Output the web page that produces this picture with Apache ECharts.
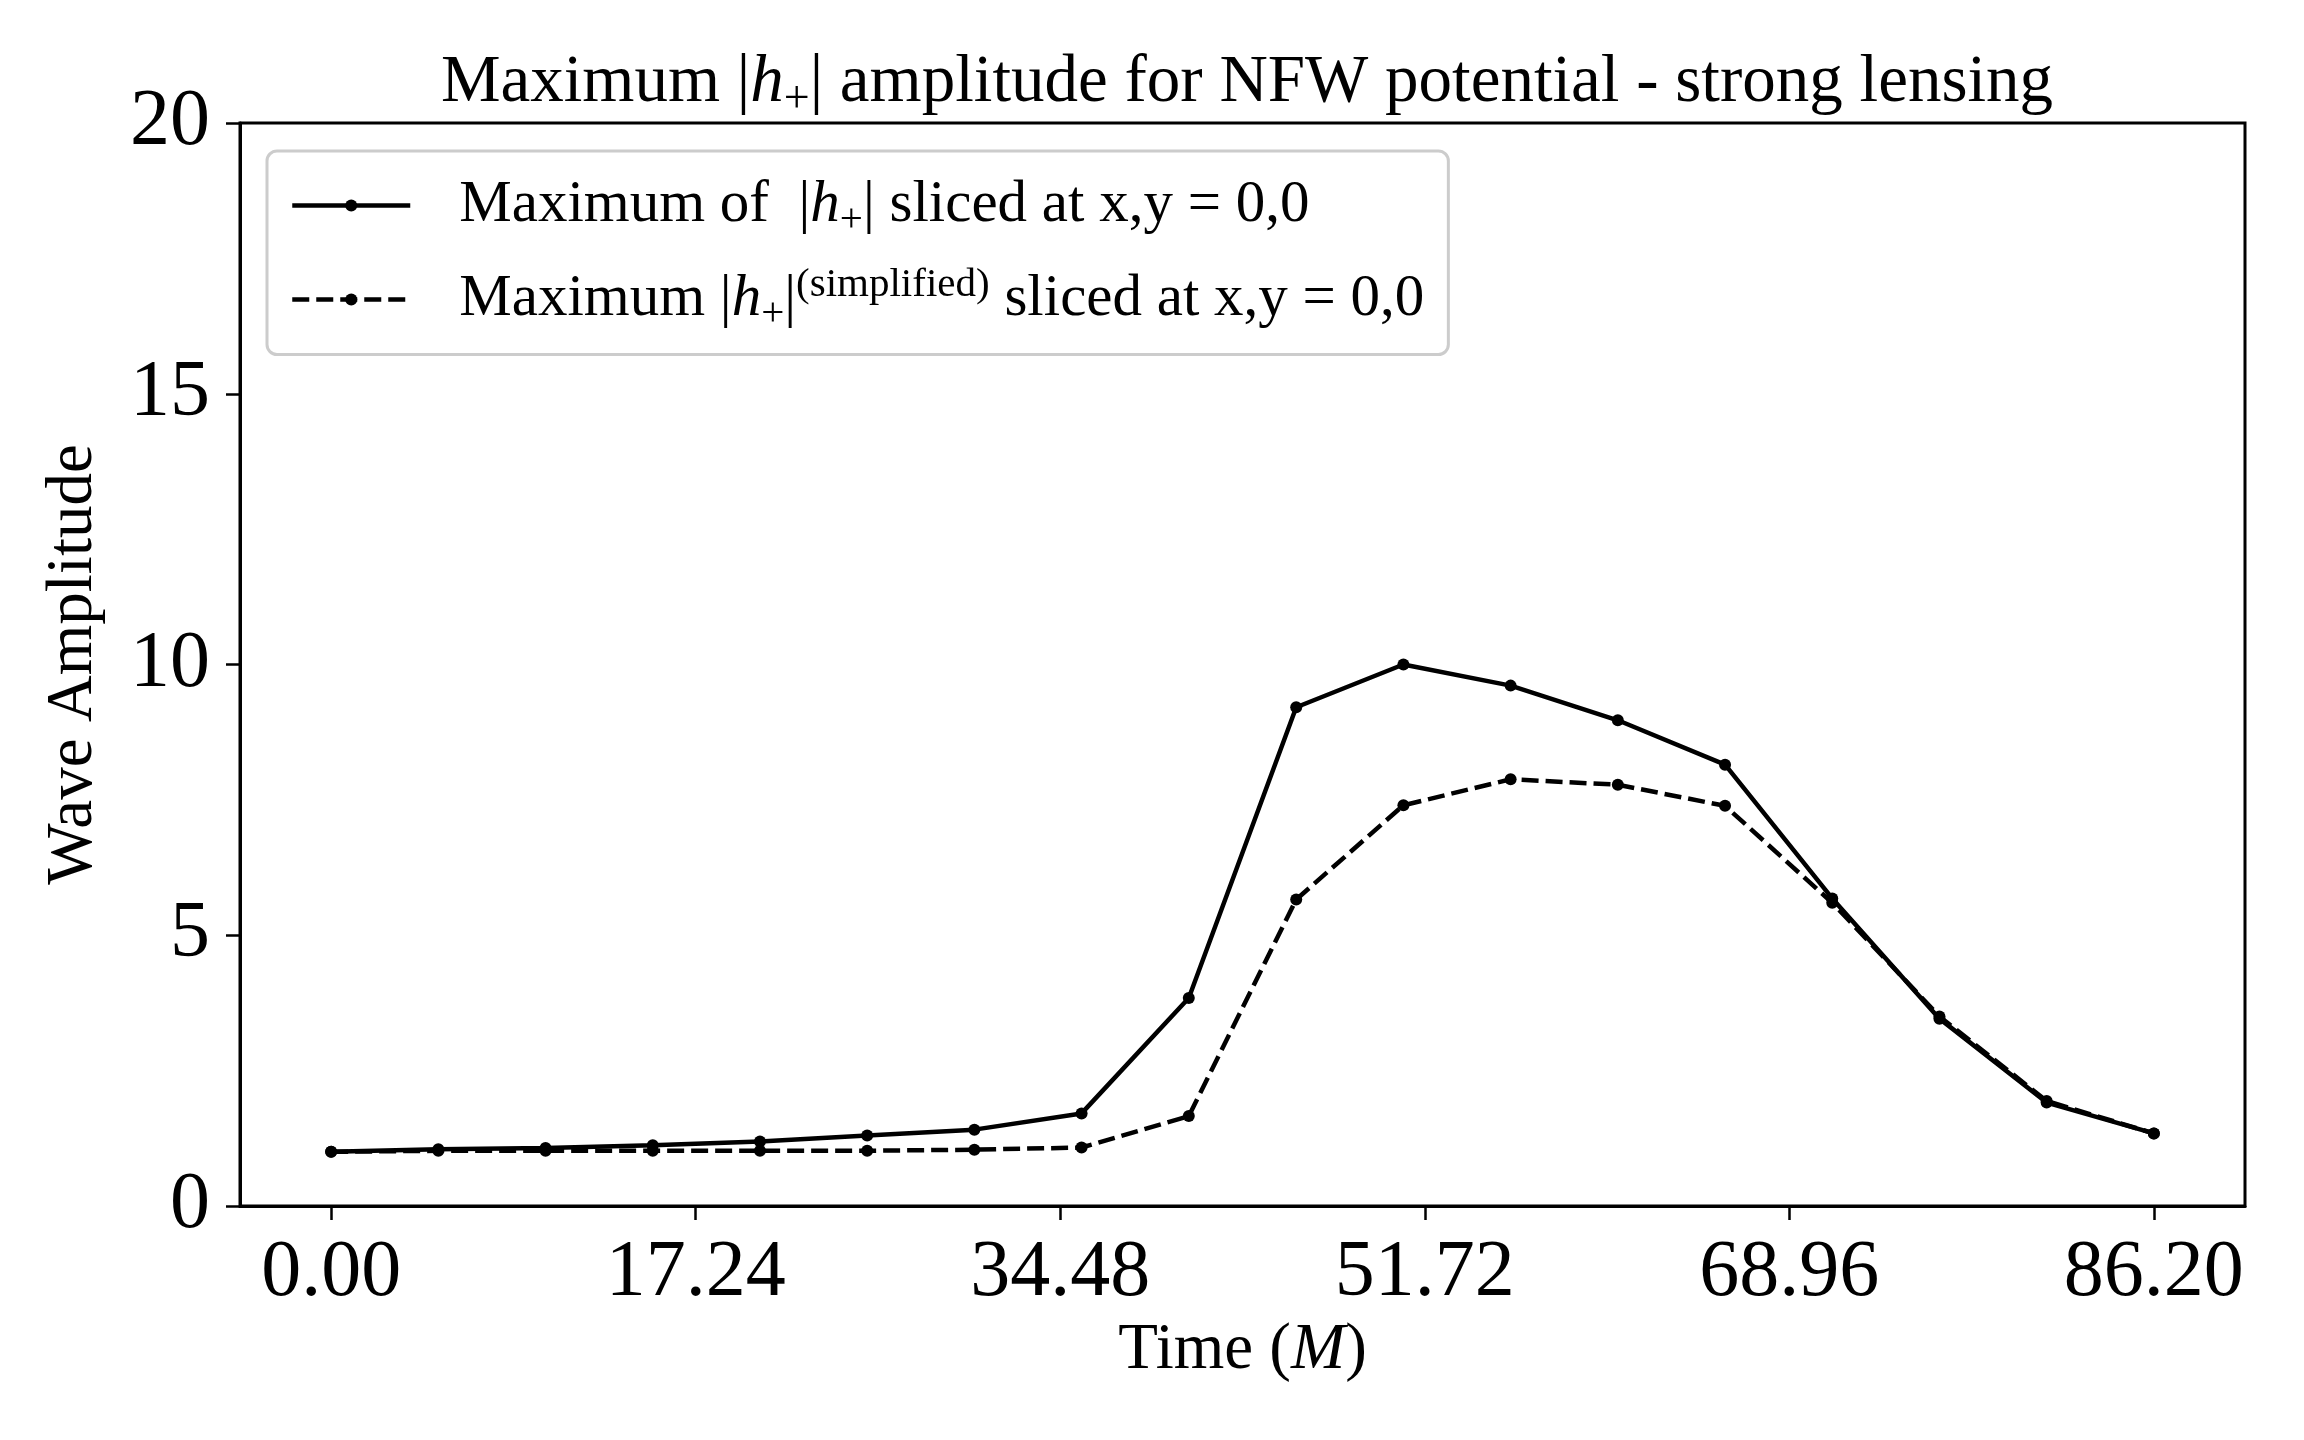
<!DOCTYPE html>
<html>
<head>
<meta charset="utf-8">
<script src="https://cdn.jsdelivr.net/npm/echarts@6/dist/echarts.min.js"></script>
<style>
  html, body { margin: 0; padding: 0; background: #fff; }
  #chart { width: 2304px; height: 1440px; }
</style>
</head>
<body>
<div id="chart"></div>
<script>
// chart data
const times = [0.00, 5.07, 10.14, 15.21, 20.28, 25.35, 30.42, 35.49, 40.56,
    45.64, 50.71, 55.78, 60.85, 65.92, 70.99, 76.06, 81.13, 86.20]
const maxFull = [1.00, 1.05, 1.07, 1.12, 1.19, 1.30, 1.41, 1.71, 3.84,
    9.21, 10.00, 9.61, 8.97, 8.15, 5.68, 3.46, 1.91, 1.34]
const maxSimplified = [1.00, 1.02, 1.02, 1.02, 1.02, 1.02, 1.04, 1.08, 1.66,
    5.66, 7.40, 7.88, 7.78, 7.39, 5.60, 3.50, 1.94, 1.34]
const xTicks = [0.00, 17.24, 34.48, 51.72, 68.96, 86.20]
const yTicks = [0, 5, 10, 15, 20]

const FONT = "Liberation Serif"
const nameFull = "Maximum of |h+| sliced at x,y = 0,0"
const nameSimplified = "Maximum |h+|(simplified) sliced at x,y = 0,0"

const pairs = (ys) => times.map((t, i) => [t, ys[i]])

const legendRich = {
    gap: { width: 44 },
    n: { fontSize: 59, fontFamily: FONT, color: "#000", lineHeight: 70 },
    it: { fontSize: 59, fontFamily: FONT, fontStyle: "italic", color: "#000", lineHeight: 70 },
    sub: { fontSize: 41, fontFamily: FONT, color: "#000", lineHeight: 40, verticalAlign: "bottom" },
    sup: { fontSize: 41, fontFamily: FONT, color: "#000", lineHeight: 40, verticalAlign: "top" },
}

const option = {
    backgroundColor: "#fff",
    animation: false,
    title: {
        text: "{n|Maximum |}{it|h}{sub|+}{n|| amplitude for NFW potential - strong lensing}",
        left: 1242,
        top: 38,
        textAlign: "center",
        textStyle: {
            fontWeight: "normal",
            rich: {
                n: { fontSize: 67, fontFamily: FONT, fontWeight: "normal", color: "#000", lineHeight: 80 },
                it: { fontSize: 67, fontFamily: FONT, fontWeight: "normal", fontStyle: "italic", color: "#000", lineHeight: 80 },
                sub: { fontSize: 46, fontFamily: FONT, fontWeight: "normal", color: "#000", lineHeight: 46, verticalAlign: "bottom" },
            },
        },
    },
    legend: {
        left: 267,
        top: 151,
        orient: "vertical",
        itemWidth: 118,
        itemHeight: 15,
        itemGap: 24,
        padding: [25, 24, 20, 23],
        borderColor: "#cccccc",
        borderWidth: 3,
        borderRadius: 10,
        backgroundColor: "rgba(255,255,255,0.8)",
        lineStyle: { width: 4.5 },
        data: [nameFull, nameSimplified],
        formatter: (name) => {
            if (name === nameFull) {
                return "{gap|}{n|Maximum of  |}{it|h}{sub|+}{n|| sliced at x,y = 0,0}"
            }
            return "{gap|}{n|Maximum |}{it|h}{sub|+}{n||}{sup|(simplified)}{n| sliced at x,y = 0,0}"
        },
        textStyle: { rich: legendRich },
    },
    grid: {
        left: 240,
        right: 59,
        top: 123,
        bottom: 234,
        show: true,
        borderColor: "#000",
        borderWidth: 3,
        containLabel: false,
    },
    xAxis: {
        type: "value",
        min: -4.31,
        max: 90.51,
        name: "Time ({it|M})",
        nameLocation: "middle",
        nameGap: 108,
        nameTextStyle: {
            fontSize: 65,
            fontFamily: FONT,
            color: "#000",
            rich: {
                it: { fontSize: 65, fontFamily: FONT, fontStyle: "italic", color: "#000" },
            },
        },
        axisLine: { show: true, onZero: false, lineStyle: { color: "#000", width: 3 } },
        axisTick: { show: true, length: 14, lineStyle: { color: "#000", width: 2.5 }, customValues: xTicks },
        axisLabel: {
            customValues: xTicks,
            formatter: (v) => v.toFixed(2),
            fontSize: 80,
            fontFamily: FONT,
            color: "#000",
            margin: 28,
        },
        splitLine: { show: false },
    },
    yAxis: {
        type: "value",
        min: 0,
        max: 20,
        interval: 5,
        name: "Wave Amplitude",
        nameLocation: "middle",
        nameGap: 134,
        nameTextStyle: { fontSize: 65, fontFamily: FONT, color: "#000" },
        axisLine: { show: true, onZero: false, lineStyle: { color: "#000", width: 3 } },
        axisTick: { show: true, length: 14, lineStyle: { color: "#000", width: 2.5 } },
        axisLabel: {
            customValues: yTicks,
            fontSize: 80,
            fontFamily: FONT,
            color: "#000",
            margin: 30,
        },
        splitLine: { show: false },
    },
    series: [
        {
            name: nameFull,
            type: "line",
            data: pairs(maxFull),
            symbol: "circle",
            symbolSize: 12,
            itemStyle: { color: "#000" },
            lineStyle: { color: "#000", width: 4.5, type: "solid" },
            z: 3,
        },
        {
            name: nameSimplified,
            type: "line",
            data: pairs(maxSimplified),
            symbol: "circle",
            symbolSize: 12,
            itemStyle: { color: "#000" },
            lineStyle: { color: "#000", width: 4.5, type: [17, 7] },
            z: 2,
        },
    ],
}

const chart = echarts.init(document.getElementById("chart"))
chart.setOption(option)
</script>
</body>
</html>
